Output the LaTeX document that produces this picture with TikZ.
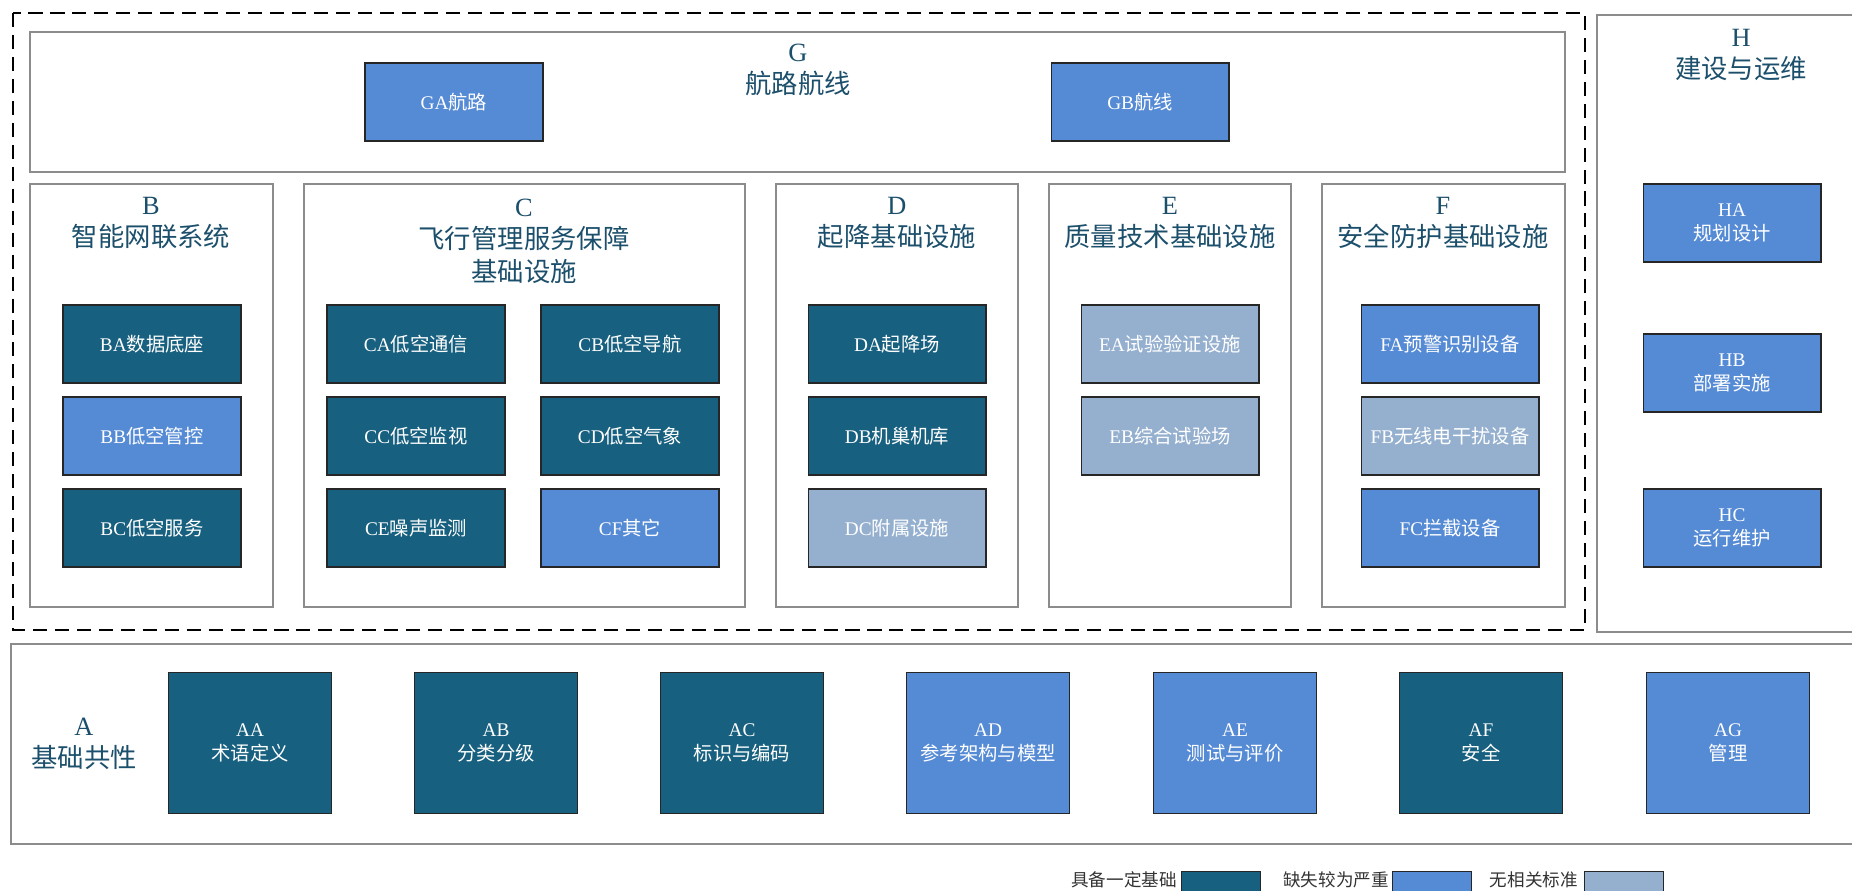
\documentclass[tikz,border=0pt]{standalone}
\usepackage{fontspec}
\setmainfont{Liberation Serif}
\newfontfamily\cjk{Noto Sans CJK SC}
\usetikzlibrary{calc}
\definecolor{darkcell}{HTML}{17607F}
\definecolor{midcell}{HTML}{558AD5}
\definecolor{lightcell}{HTML}{95B0CF}
\definecolor{titlec}{HTML}{1B4F6B}
\definecolor{framec}{HTML}{8C8C8C}
\newcommand{\zh}[1]{{\cjk #1}}

\begin{document}
\begin{tikzpicture}[x=0.02cm,y=-0.02cm,
    frame/.style={draw=framec,line width=0.7pt},
    cell/.style={draw=black!85,line width=0.6pt,text=white,minimum width=3.56cm,minimum height=1.56cm,inner sep=0pt,align=center,font=\fontsize{11}{14}\selectfont},
    bigcell/.style={cell,minimum width=3.26cm,minimum height=2.82cm},
    head/.style={text=titlec,align=center,font=\fontsize{15}{18.5}\selectfont},
    key/.style={draw=black!85,line width=0.6pt,minimum width=1.58cm,minimum height=0.5cm,inner sep=0pt},
    keytext/.style={text=black!80,anchor=east,font=\fontsize{10}{12}\selectfont\cjk}]
    \useasboundingbox (0,0) rectangle (1852,891);
    % frames
    \draw[line width=1.6pt,dash pattern=on 8pt off 4.5pt] (13,13) rectangle (1585,630);
    \draw[frame] (30,32) rectangle (1565,172);
    \draw[frame] (30,184) rectangle (273,607);
    \draw[frame] (304,184) rectangle (745,607);
    \draw[frame] (776,184) rectangle (1018,607);
    \draw[frame] (1049,184) rectangle (1291,607);
    \draw[frame] (1322,184) rectangle (1565,607);
    \draw[frame] (1597,15) rectangle (1860,632);
    \draw[frame] (11,644) rectangle (1860,844);
    % headings
    \node[head] (Gt) at (798,70) {G\\\zh{航路航线}};
    \node[head] (Bt) at (151,223) {B\\\zh{智能网联系统}};
    \node[head] (Ct) at (524,241) {C\\\zh{飞行管理服务保障}\\\zh{基础设施}};
    \node[head] (Dt) at (897,223) {D\\\zh{起降基础设施}};
    \node[head] (Et) at (1170,223) {E\\\zh{质量技术基础设施}};
    \node[head] (Ft) at (1443,223) {F\\\zh{安全防护基础设施}};
    \node[head] (Ht) at (1741,55) {H\\\zh{建设与运维}};
    \node[head] (At) at (84,744) {A\\\zh{基础共性}};
    % G
    \node[cell,fill=midcell] (GA) at (454,102) {GA\zh{航路}};
    \node[cell,fill=midcell] (GB) at (1140,102) {GB\zh{航线}};
    % B
    \node[cell,fill=darkcell] (BA) at (152,344) {BA\zh{数据底座}};
    \node[cell,fill=midcell] (BB) at (152,436) {BB\zh{低空管控}};
    \node[cell,fill=darkcell] (BC) at (152,528) {BC\zh{低空服务}};
    % C
    \node[cell,fill=darkcell] (CA) at (416,344) {CA\zh{低空通信}};
    \node[cell,fill=darkcell] (CB) at (630,344) {CB\zh{低空导航}};
    \node[cell,fill=darkcell] (CC) at (416,436) {CC\zh{低空监视}};
    \node[cell,fill=darkcell] (CD) at (630,436) {CD\zh{低空气象}};
    \node[cell,fill=darkcell] (CE) at (416,528) {CE\zh{噪声监测}};
    \node[cell,fill=midcell] (CF) at (630,528) {CF\zh{其它}};
    % D
    \node[cell,fill=darkcell] (DA) at (897,344) {DA\zh{起降场}};
    \node[cell,fill=darkcell] (DB) at (897,436) {DB\zh{机巢机库}};
    \node[cell,fill=lightcell] (DC) at (897,528) {DC\zh{附属设施}};
    % E
    \node[cell,fill=lightcell] (EA) at (1170,344) {EA\zh{试验验证设施}};
    \node[cell,fill=lightcell] (EB) at (1170,436) {EB\zh{综合试验场}};
    % F
    \node[cell,fill=midcell] (FA) at (1450,344) {FA\zh{预警识别设备}};
    \node[cell,fill=lightcell] (FB) at (1450,436) {FB\zh{无线电干扰设备}};
    \node[cell,fill=midcell] (FC) at (1450,528) {FC\zh{拦截设备}};
    % H
    \node[cell,fill=midcell] (HA) at (1732,223) {HA\\\zh{规划设计}};
    \node[cell,fill=midcell] (HB) at (1732,373) {HB\\\zh{部署实施}};
    \node[cell,fill=midcell] (HC) at (1732,528) {HC\\\zh{运行维护}};
    % A
    \node[bigcell,fill=darkcell] (AA) at (250,743) {AA\\\zh{术语定义}};
    \node[bigcell,fill=darkcell] (AB) at (496,743) {AB\\\zh{分类分级}};
    \node[bigcell,fill=darkcell] (AC) at (742,743) {AC\\\zh{标识与编码}};
    \node[bigcell,fill=midcell] (AD) at (988,743) {AD\\\zh{参考架构与模型}};
    \node[bigcell,fill=midcell] (AE) at (1235,743) {AE\\\zh{测试与评价}};
    \node[bigcell,fill=darkcell] (AF) at (1481,743) {AF\\\zh{安全}};
    \node[bigcell,fill=midcell] (AG) at (1728,743) {AG\\\zh{管理}};
    % legend
    \node[key,fill=darkcell] (k1) at (1221,884) {};
    \node[key,fill=midcell] (k2) at (1432,884) {};
    \node[key,fill=lightcell] (k3) at (1624,884) {};
    \node[keytext] (k1t) at (1183,880) {具备一定基础};
    \node[keytext] (k2t) at (1395,880) {缺失较为严重};
    \node[keytext] (k3t) at (1584,880) {无相关标准};
\end{tikzpicture}
\end{document}
